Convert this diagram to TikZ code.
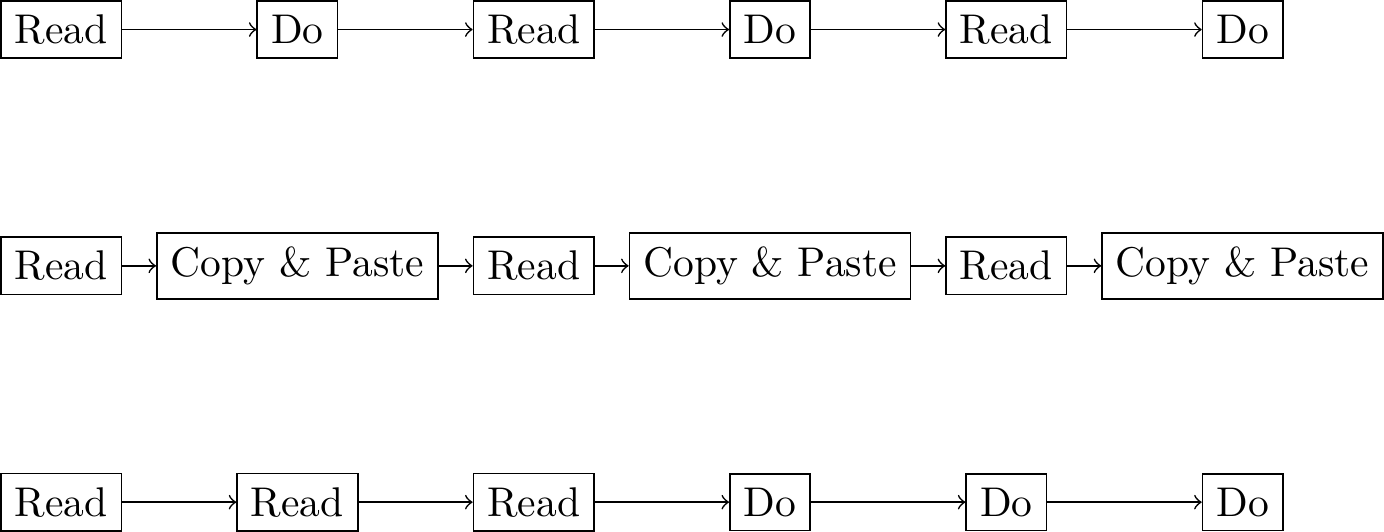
\documentclass[tikz,border=0pt]{standalone}
\usepackage{tikz}
\usetikzlibrary{positioning}

\begin{document}
\begin{tikzpicture}[>=to,blk/.style={draw,rectangle}]
% row 1: read / do
\node[blk] (r1a) at (0,0) {Read};
\node[blk] (d1a) at (2,0) {Do};
\node[blk] (r1b) at (4,0) {Read};
\node[blk] (d1b) at (6,0) {Do};
\node[blk] (r1c) at (8,0) {Read};
\node[blk] (d1c) at (10,0) {Do};
% row 2: read / copy & paste
\node[blk] (r2a) at (0,-2) {Read};
\node[blk] (c2a) at (2,-2) {Copy \& Paste};
\node[blk] (r2b) at (4,-2) {Read};
\node[blk] (c2b) at (6,-2) {Copy \& Paste};
\node[blk] (r2c) at (8,-2) {Read};
\node[blk] (c2c) at (10,-2) {Copy \& Paste};
% row 3: read everything first
\node[blk] (r3a) at (0,-4) {Read};
\node[blk] (r3b) at (2,-4) {Read};
\node[blk] (r3c) at (4,-4) {Read};
\node[blk] (d3a) at (6,-4) {Do};
\node[blk] (d3b) at (8,-4) {Do};
\node[blk] (d3c) at (10,-4) {Do};
% arrows
\foreach \a/\b in {r1a/d1a,d1a/r1b,r1b/d1b,d1b/r1c,r1c/d1c,
  r2a/c2a,c2a/r2b,r2b/c2b,c2b/r2c,r2c/c2c,
  r3a/r3b,r3b/r3c,r3c/d3a,d3a/d3b,d3b/d3c}
  \draw[->] (\a) -- (\b);
\end{tikzpicture}
\end{document}
